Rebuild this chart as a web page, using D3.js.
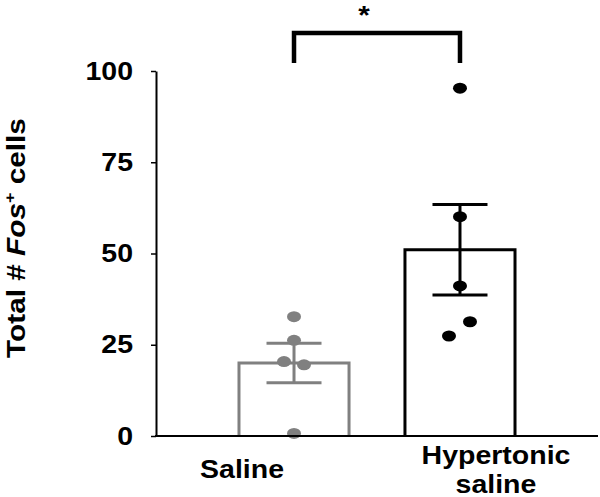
<!DOCTYPE html>
<html>
<head>
<meta charset="utf-8">
<script src="https://cdn.jsdelivr.net/npm/d3@7"></script>
<style>
  body { margin: 0; background: #fff; }
  text { font-family: "Liberation Sans", Arial, sans-serif; font-weight: bold; }
</style>
</head>
<body>
<div id="chart"></div>
<script>
// data
const categories = ["Saline", "Hypertonic saline"];
const labelLines = [["Saline"], ["Hypertonic", "saline"]];
const means = [20, 51];
const sems = [5.4, 12.4];
const salinePoints = [32.7, 26.2, 20.4, 19.5, 0.7];
const hyperPoints = [95.3, 60.1, 41.1, 31.3, 27.4];
const yTicks = [0, 25, 50, 75, 100];

// layout bits (not data)
const jitter = [[0, 0, -10, 10, 0], [0, 0, 0, 10, -11]];
const labelShift = [-52, 36];
const colors = ["#808080", "#000000"];
const stretch = 1.14; // the figure is a bit wide, text included

const width = 600, height = 497;

const svg = d3.select("#chart")
  .append("svg")
  .attr("width", width)
  .attr("height", height);

const y = d3.scaleLinear().domain([0, 100]).range([436, 71]);
const x = d3.scaleBand()
  .domain(categories)
  .range([156, 598])
  .paddingInner(0.337)
  .paddingOuter(0.5);

// bars, open at the bottom
svg.selectAll("path.bar")
  .data(categories)
  .join("path")
  .attr("class", "bar")
  .attr("d", (d, i) => {
    const x0 = x(d), x1 = x(d) + x.bandwidth();
    return `M${x0},${y(0)}V${y(means[i])}H${x1}V${y(0)}`;
  })
  .attr("fill", "none")
  .attr("stroke", (d, i) => colors[i])
  .attr("stroke-width", 3);

// error bars
const capHalf = 27.5;
categories.forEach((c, i) => {
  const cx = x(c) + x.bandwidth() / 2;
  const g = svg.append("g").attr("stroke", colors[i]).attr("stroke-width", 3);
  g.append("line")
    .attr("x1", cx).attr("x2", cx)
    .attr("y1", y(means[i] + sems[i])).attr("y2", y(means[i] - sems[i]));
  [means[i] + sems[i], means[i] - sems[i]].forEach(v => {
    g.append("line")
      .attr("x1", cx - capHalf).attr("x2", cx + capHalf)
      .attr("y1", y(v)).attr("y2", y(v));
  });
});

// individual animals
[salinePoints, hyperPoints].forEach((pts, i) => {
  const cx = x(categories[i]) + x.bandwidth() / 2;
  svg.append("g")
    .selectAll("ellipse")
    .data(pts)
    .join("ellipse")
    .attr("cx", (d, j) => cx + jitter[i][j])
    .attr("cy", d => y(d))
    .attr("rx", 7)
    .attr("ry", 5.5)
    .attr("fill", colors[i]);
});

// y axis
const yAxis = svg.append("g")
  .attr("transform", "translate(156,0)")
  .call(d3.axisLeft(y).tickValues(yTicks).tickSize(5).tickSizeOuter(0));
yAxis.select(".domain").attr("stroke", "#000").attr("stroke-width", 2);
yAxis.selectAll(".tick line").attr("stroke", "#000").attr("stroke-width", 1.5);
yAxis.selectAll(".tick text")
  .attr("x", null)
  .attr("fill", "#000")
  .attr("font-size", 25)
  .attr("transform", `translate(-23,0) scale(${stretch},1)`);

// x axis line
svg.append("line")
  .attr("x1", 155).attr("x2", 598)
  .attr("y1", y(0)).attr("y2", y(0))
  .attr("stroke", "#000")
  .attr("stroke-width", 2);

// category labels
categories.forEach((c, i) => {
  const cx = x(c) + x.bandwidth() / 2 + labelShift[i];
  const lines = labelLines[i];
  const base = 478 - (lines.length - 1) * 14.5;
  lines.forEach((t, k) => {
    svg.append("text")
      .attr("transform", `translate(${cx},${base + k * 29}) scale(${stretch},1)`)
      .attr("text-anchor", "middle")
      .attr("font-size", 25)
      .text(t);
  });
});

// y title
const title = svg.append("text")
  .attr("text-anchor", "middle")
  .attr("font-size", 25);
title.append("tspan").text("Total # ");
title.append("tspan").attr("font-style", "italic").text("Fos");
title.append("tspan").attr("font-size", 15).attr("dy", -10).text("+");
title.append("tspan").attr("dy", 10).text(" cells");
const tw = title.node().getComputedTextLength();
title.attr("transform", `translate(25,238) rotate(-90) scale(${240 / tw},1)`);

// significance bracket
const bx0 = x(categories[0]) + x.bandwidth() / 2;
const bx1 = x(categories[1]) + x.bandwidth() / 2;
svg.append("path")
  .attr("d", `M${bx0},${y(102.2)}V${y(110.4)}H${bx1}V${y(102.2)}`)
  .attr("fill", "none")
  .attr("stroke", "#000")
  .attr("stroke-width", 4.5);
svg.append("text")
  .attr("transform", `translate(${(bx0 + bx1) / 2 - 13},23.5) scale(${stretch},1)`)
  .attr("text-anchor", "middle")
  .attr("font-size", 26)
  .text("*");
</script>
</body>
</html>
